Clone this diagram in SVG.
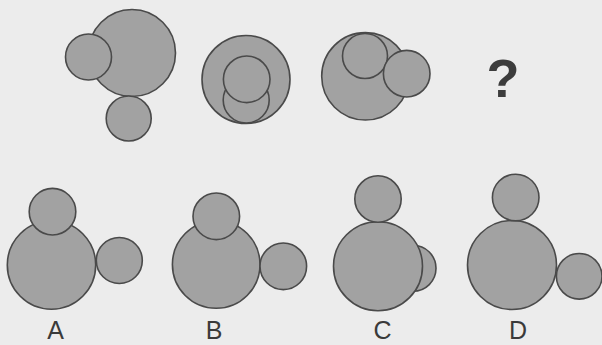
<svg xmlns="http://www.w3.org/2000/svg" width="602" height="345" viewBox="0 0 602 345">
<style>
.c{fill:#a2a2a2;stroke:#4a4a4a;stroke-width:1.6}
.lbl{font-family:"Liberation Sans",Arial,sans-serif;font-size:25px;fill:#3a3a3a;text-anchor:middle}
.q{font-family:"Liberation Sans",Arial,sans-serif;font-size:54px;font-weight:bold;fill:#3c3c3c;text-anchor:middle}
</style>
<rect width="602" height="345" fill="#ececec"/>
<g id="fig1">
<circle class="c" cx="132" cy="53" r="43.5"/>
<circle class="c" cx="88.5" cy="57" r="23"/>
<circle class="c" cx="128.7" cy="118.5" r="22.5"/>
</g>
<g id="fig2">
<circle class="c" cx="246" cy="79.5" r="44"/>
<circle class="c" cx="246.2" cy="100" r="23"/>
<circle class="c" cx="246.7" cy="79.3" r="23.3"/>
</g>
<g id="fig3">
<circle class="c" cx="365.4" cy="76.3" r="43.7"/>
<circle class="c" cx="365" cy="56" r="22.5"/>
<circle class="c" cx="406.7" cy="73.7" r="23.3"/>
</g>
<g id="question">
<text class="q" x="503" y="97">?</text>
</g>
<g id="optA">
<circle class="c" cx="51.5" cy="265" r="44.2"/>
<circle class="c" cx="52.5" cy="211.7" r="23.3"/>
<circle class="c" cx="119.3" cy="260.5" r="23"/>
<text class="lbl" x="55.5" y="339">A</text>
</g>
<g id="optB">
<circle class="c" cx="216.2" cy="264.5" r="43.8"/>
<circle class="c" cx="216.3" cy="216.3" r="23.3"/>
<circle class="c" cx="283.3" cy="266.3" r="23.3"/>
<text class="lbl" x="214" y="339">B</text>
</g>
<g id="optC">
<circle class="c" cx="413" cy="268.3" r="23"/>
<circle class="c" cx="378" cy="266.2" r="44.5"/>
<circle class="c" cx="378" cy="199" r="23.2"/>
<text class="lbl" x="382.5" y="339">C</text>
</g>
<g id="optD">
<circle class="c" cx="512" cy="265" r="44.5"/>
<circle class="c" cx="515.7" cy="197.5" r="23.3"/>
<circle class="c" cx="579.2" cy="276.3" r="22.8"/>
<text class="lbl" x="518" y="339">D</text>
</g>
</svg>
